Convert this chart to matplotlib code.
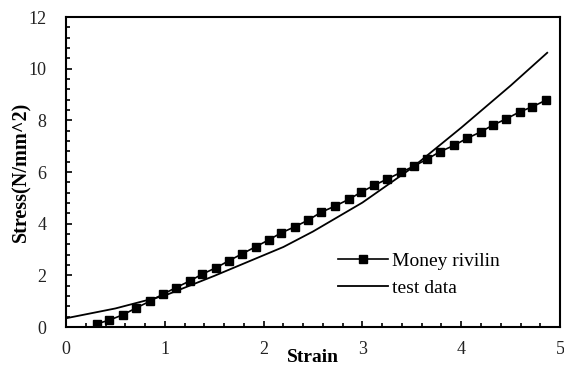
import matplotlib.pyplot as plt
from matplotlib.ticker import MultipleLocator

plt.rcParams['font.family'] = ['Liberation Serif', 'DejaVu Serif']

# Money rivilin fit (markers)
mr_strain = [0.31, 0.44, 0.58, 0.71, 0.85, 0.98, 1.11, 1.25, 1.38, 1.52,
             1.65, 1.78, 1.92, 2.05, 2.18, 2.32, 2.45, 2.58, 2.72, 2.86,
             2.99, 3.12, 3.25, 3.39, 3.52, 3.65, 3.78, 3.93, 4.06, 4.20,
             4.32, 4.45, 4.59, 4.72, 4.86]
mr_stress = [0.12, 0.27, 0.48, 0.74, 1.00, 1.27, 1.52, 1.78, 2.05, 2.30,
             2.57, 2.83, 3.11, 3.37, 3.65, 3.89, 4.14, 4.44, 4.68, 4.94,
             5.23, 5.49, 5.73, 5.99, 6.23, 6.49, 6.78, 7.04, 7.31, 7.56,
             7.82, 8.05, 8.33, 8.53, 8.79]

# test data (solid line)
td_strain = [0.0, 0.5, 1.0, 1.5, 2.0, 2.2, 2.5, 3.0, 3.5, 4.0, 4.5, 4.87]
td_stress = [0.34, 0.72, 1.22, 1.98, 2.78, 3.10, 3.70, 4.82, 6.16, 7.72, 9.35, 10.62]

fig = plt.figure(figsize=(5.64, 3.65), dpi=100)
ax = fig.add_axes([0.117, 0.104, 0.876, 0.849])

ax.plot(mr_strain, mr_stress, color='black', lw=1.2, marker='s', ms=6,
        label='Money rivilin')
ax.plot(td_strain, td_stress, color='black', lw=1.3, label='test data')

ax.set_xlim(0, 5)
ax.set_ylim(0, 12)
ax.xaxis.set_major_locator(MultipleLocator(1))
ax.xaxis.set_minor_locator(MultipleLocator(0.2))
ax.yaxis.set_major_locator(MultipleLocator(2))
ax.yaxis.set_minor_locator(MultipleLocator(0.4))
ax.tick_params(which='both', direction='in', top=False, right=False,
               labelsize=13, width=1.2, colors='black', labelcolor='#222222')
ax.tick_params(which='major', length=4)
ax.tick_params(which='minor', length=3)
ax.tick_params(axis='x', which='major', pad=10)
ax.tick_params(axis='y', which='major', pad=14)
for s in ax.spines.values():
    s.set_linewidth(1.5)

ax.set_xlabel('Strain', fontweight='bold', fontsize=14, va='baseline')
ax.xaxis.set_label_coords(0.5, -0.112)
ax.set_ylabel('Stress(N/mm^2)', fontweight='bold', fontsize=14.5)
ax.yaxis.set_label_coords(-0.07, 0.5)

ax.legend(loc='upper left', bbox_to_anchor=(0.55, 0.24), frameon=False,
          fontsize=14, handlelength=2.6, handletextpad=0.2, borderpad=0,
          borderaxespad=0, labelspacing=0.45)

fig.savefig('out.png', dpi=100)
